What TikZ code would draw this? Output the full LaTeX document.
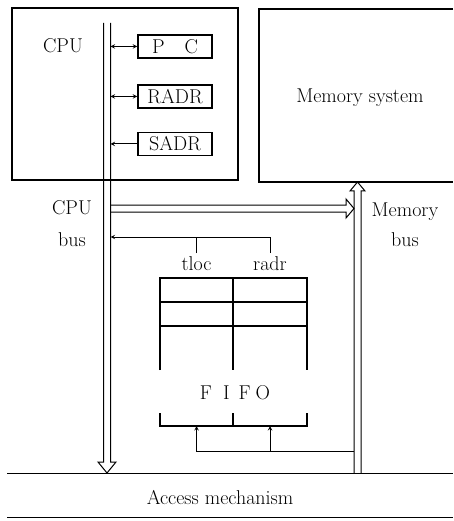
\documentclass[tikz,border=0pt]{standalone}
\usepackage{fontspec}
\usepackage{tikz}
\usetikzlibrary{calc,arrows}
\begin{document}
\begin{tikzpicture}[x=1pt,y=-1pt,>=stealth,line width=1pt,
	font=\fontsize{20}{23}\selectfont\addfontfeature{LetterSpace=5},
	frame/.style={draw,line width=1.5pt,inner sep=0pt},
	regbox/.style={frame,minimum width=74pt,minimum height=23pt}]
			\useasboundingbox (0,0) rectangle (453,521);
			\def\bl{103.5}
			\def\br{110.5}
			\def\ml{354}
			\def\mr{361}
			\def\fl{160}
			\def\fm{233}
			\def\fr{307}
			
			\coordinate (cbr) at (\br,23);
			\coordinate (tap) at (\ml,451);
			\coordinate (ret) at (196.5,237);
			\coordinate (in1) at (196.5,426);
			\coordinate (in2) at (270,426);
			
			\node[frame,minimum width=226pt,minimum height=172pt] (cpu) at (125,94) {};
			\node (cpulab) at (63,46) {CPU};
			\node[regbox] (pc) at (175,46.5) {P\quad C};
			\node[regbox] (radr) at (175,96.5) {RADR};
			\node[regbox] (sadr) at (175,144) {SADR};
			
			\draw[line width=1.5pt] (453,9) -- (259,9) -- (259,182) -- (453,182);
			\node (mem) at (360,98) {Memory system};
			
			\draw (\bl,23) -- (\bl,462) -- (98,462) -- (107,473) -- (116,462) -- (\br,462) -- (\br,23);
			\draw (\br,205) -- (346,205) -- (346,199) -- (\ml,208.5) -- (346,218) -- (346,212) -- (\br,212);
			\draw (\ml,473) -- (\ml,191) -- (350,191) -- (357.5,182) -- (365,191) -- (\mr,191) -- (\mr,473);
			
			\draw[<->] (pc.west -| cbr) -- (pc.west);
			\draw[<->] (radr.west -| cbr) -- (radr.west);
			\draw[<-] (sadr.west -| cbr) -- (sadr.west);
			
			\node (cpubus) at (72,208) {CPU};
			\node (cpubus2) at (72,240) {bus};
			\node (membus) at (405,212) {Memory};
			\node (membus2) at (405,240) {bus};
			
			\node (tloc) at (196.5,264) {tloc};
			\node (radrlab) at (270,264) {radr};
			\draw[->] (radrlab.north) |- (ret -| cbr);
			\draw (tloc.north) -- (ret);
			
			\draw[line width=1.5pt] (\fl,370) -- (\fl,278) -- (\fr,278) -- (\fr,370);
			\draw[line width=1.5pt] (\fm,278) -- (\fm,370);
			\foreach \y in {302,326}
				\draw[line width=1.5pt] (\fl,\y) -- (\fr,\y);
			\node (fifo) at (235,393) {F\hspace{11pt}I\hspace{9pt}F\hspace{5pt}O};
			\draw[line width=1.5pt] (\fl,413) -- (\fl,426) -- (\fr,426) -- (\fr,413);
			\draw[line width=1.5pt] (\fm,413) -- (\fm,426);
			
			\draw[->] (tap) -| (in1);
			\draw[->] (in2 |- tap) -- (in2);
			
			\draw (7,473) -- (453,473);
			\draw (7,517) -- (453,517);
			\node[font=\fontsize{20}{23}\selectfont\addfontfeature{LetterSpace=13}] (access) at (220,498) {Access mechanism};
		\end{tikzpicture}
\end{document}
